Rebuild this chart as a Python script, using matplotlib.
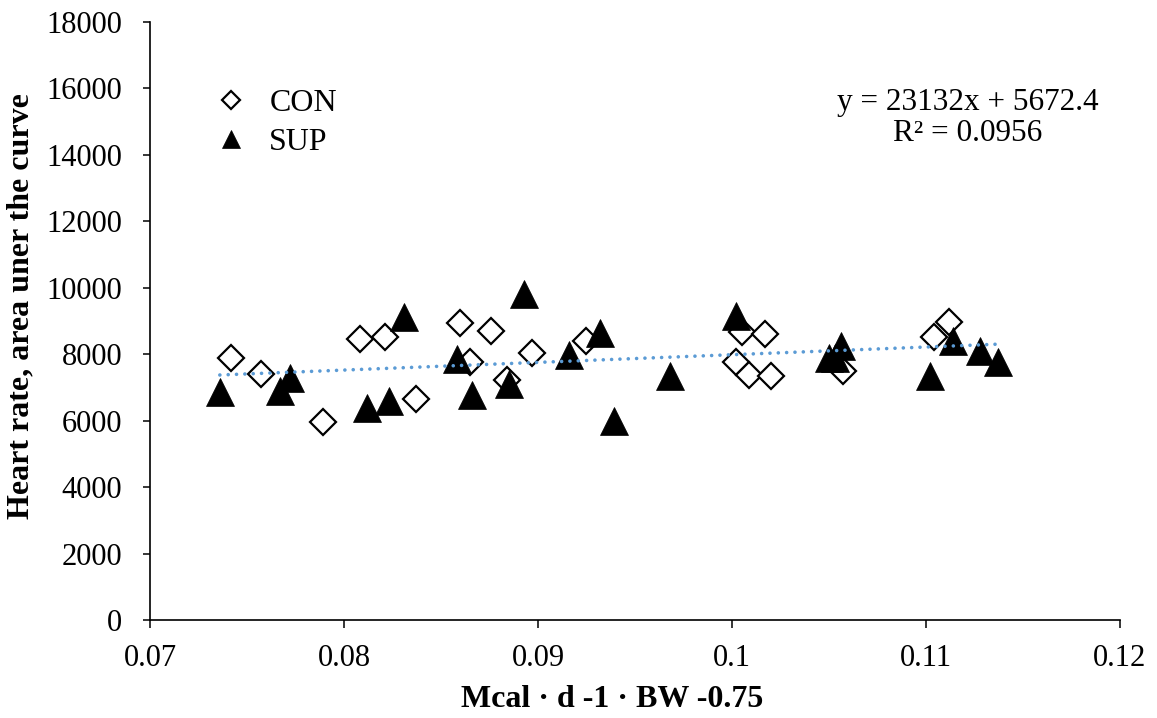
import numpy as np
import matplotlib
matplotlib.use('Agg')
import matplotlib.pyplot as plt

plt.rcParams['font.family'] = ['Liberation Serif', 'DejaVu Serif']

# CON group (open diamonds)
con_x = [0.0742, 0.0757, 0.0789, 0.0808, 0.0821, 0.0837, 0.0860, 0.0865, 0.0876, 0.0884,
         0.0897, 0.0925, 0.1005, 0.1017, 0.1002, 0.1009, 0.1020, 0.1057, 0.1104, 0.1112]
con_y = [7886, 7405, 5960, 8449, 8527, 6643, 8931, 7757, 8709, 7224,
         8047, 8398, 8678, 8609, 7757, 7375, 7344, 7504, 8509, 8979]

# SUP group (filled triangles)
sup_x = [0.0736, 0.0772, 0.0767, 0.0831, 0.0812, 0.0823, 0.0858, 0.0866, 0.0885, 0.0893,
         0.0916, 0.0932, 0.0939, 0.0968, 0.1002, 0.1056, 0.1050, 0.1053, 0.1102, 0.1114,
         0.1128, 0.1137]
sup_y = [6863, 7275, 6893, 9111, 6372, 6592, 7847, 6763, 7113, 9813,
         7986, 8639, 5981, 7344, 9160, 8238, 7886, 7886, 7354, 8407,
         8088, 7757]

# linear trend reported on the chart (all animals)
slope = 23132
intercept = 5672.4
r2 = 0.0956

fig = plt.figure(figsize=(11.57, 7.18), dpi=100)
ax = fig.add_axes([150 / 1157, 98 / 718, 970 / 1157, 598 / 718])

ax.plot(con_x, con_y, linestyle='none', marker='D', ms=13, mfc='white', mec='black',
        mew=1.6, label='CON', zorder=3)
ax.plot(sup_x, sup_y, linestyle='none', marker='^', ms=19.5, mfc='black', mec='black',
        mew=0.5, label='SUP', zorder=3)

all_x = np.array(con_x + sup_x)
tx = np.array([all_x.min(), all_x.max()])
ax.plot(tx, slope * tx + intercept, color='#5B9BD5', lw=2.6,
        linestyle=(0, (0.01, 2.3)), dash_capstyle='round', zorder=4)

ax.set_xlim(0.07, 0.12)
ax.set_ylim(0, 18000)
ax.set_xticks([0.07, 0.08, 0.09, 0.1, 0.11, 0.12])
ax.set_xticklabels(['0.07', '0.08', '0.09', '0.1', '0.11', '0.12'])
ax.set_yticks(np.arange(0, 18001, 2000))

for s in ['top', 'right']:
    ax.spines[s].set_visible(False)
for s in ['left', 'bottom']:
    ax.spines[s].set_linewidth(1.2)
    ax.spines[s].set_color('black')

ax.tick_params(axis='x', direction='out', length=6, width=1.1, labelsize=22, pad=11)
ax.tick_params(axis='y', direction='out', length=5, width=1.1, labelsize=22, pad=15)

ax.set_xlabel('Mcal · d -1 · BW -0.75', fontsize=23, fontweight='bold', labelpad=9,
              x=0.476)
ax.set_ylabel('Heart rate, area uner the curve', fontsize=23, fontweight='bold', labelpad=8,
              y=0.525)

ax.legend(loc='upper left', bbox_to_anchor=(0.067, 0.888), frameon=False, fontsize=23,
          markerscale=0.68, handlelength=1.0, handletextpad=0.7, borderpad=0,
          borderaxespad=0, labelspacing=0.3)

ax.text(0.843, 0.839, f'y = {slope}x + {intercept}\nR² = {r2}', transform=ax.transAxes,
        ha='center', va='center', multialignment='center', fontsize=22.5, linespacing=1.1)

fig.savefig('out.png', dpi=100)
